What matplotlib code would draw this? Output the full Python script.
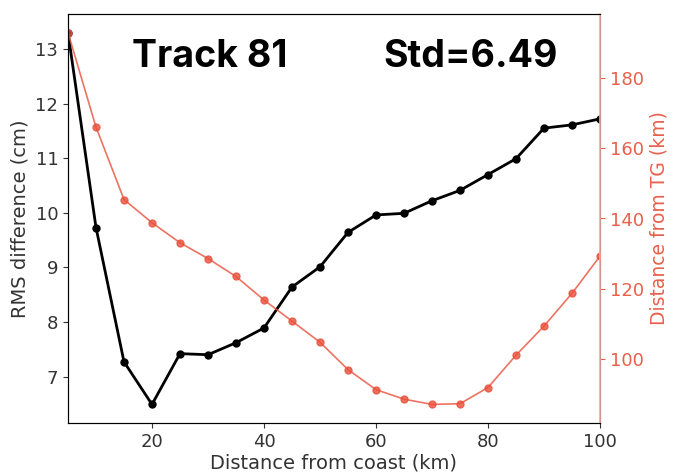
import numpy as np
import matplotlib
matplotlib.use("Agg")
import matplotlib.pyplot as plt

# ──────────────────────────────
# Data
# ──────────────────────────────
dist_coast = [5, 10, 15, 20, 25, 30, 35, 40, 45, 50,
              55, 60, 65, 70, 75, 80, 85, 90, 95, 100]
rms_diff = [13.30, 9.73, 7.27, 6.49, 7.42, 7.40, 7.62, 7.89, 8.64, 9.01,
            9.64, 9.96, 9.99, 10.22, 10.41, 10.70, 10.99, 11.55, 11.61, 11.72]
dist_tg = [192.9, 166.0, 145.4, 138.8, 133.1, 128.6, 123.5, 116.8, 110.8, 104.8,
           97.0, 91.3, 88.6, 87.1, 87.3, 91.9, 101.1, 109.4, 118.7, 129.3]

track_label = "Track 81"
std_label = "Std=6.49"

red = "#e8503a"
red_text = "#e8604c"

fig = plt.figure(figsize=(6.73, 4.76), dpi=100)
ax = fig.add_axes([68 / 673, 1 - 423 / 476, 532 / 673, 409 / 476])

ax.plot(dist_coast, rms_diff, color="black", lw=2, marker="o", ms=5)
ax.set_xlim(5, 100)
ax.set_xlabel("Distance from coast (km)", fontsize=14, color="#333333", labelpad=2)
ax.set_ylabel("RMS difference (cm)", fontsize=14, color="#333333", labelpad=4)
ax.tick_params(labelsize=13, colors="#333333")
for s in ax.spines.values():
    s.set_color("#333333")

ax2 = ax.twinx()
ax2.plot(dist_coast, dist_tg, color=red, lw=1.2, alpha=0.8, marker="o", ms=5,
         markerfacecolor=red, markeredgecolor=red)
ax2.set_ylabel("Distance from TG (km)", fontsize=13.5, color=red_text, labelpad=4)
ax2.tick_params(axis="y", labelsize=13, colors=red_text)
ax2.spines["right"].set_color("#f4a89e")
ax2.spines["right"].set_linewidth(1.2)

# ───── Annotations ─────
ax.text(0.267, 0.895, track_label, transform=ax.transAxes, ha="center", va="center",
        fontsize=27, fontweight="bold", family="Inter")
ax.text(0.757, 0.895, std_label, transform=ax.transAxes, ha="center", va="center",
        fontsize=27, fontweight="bold", family="Inter")

fig.savefig("out.png", dpi=100)
